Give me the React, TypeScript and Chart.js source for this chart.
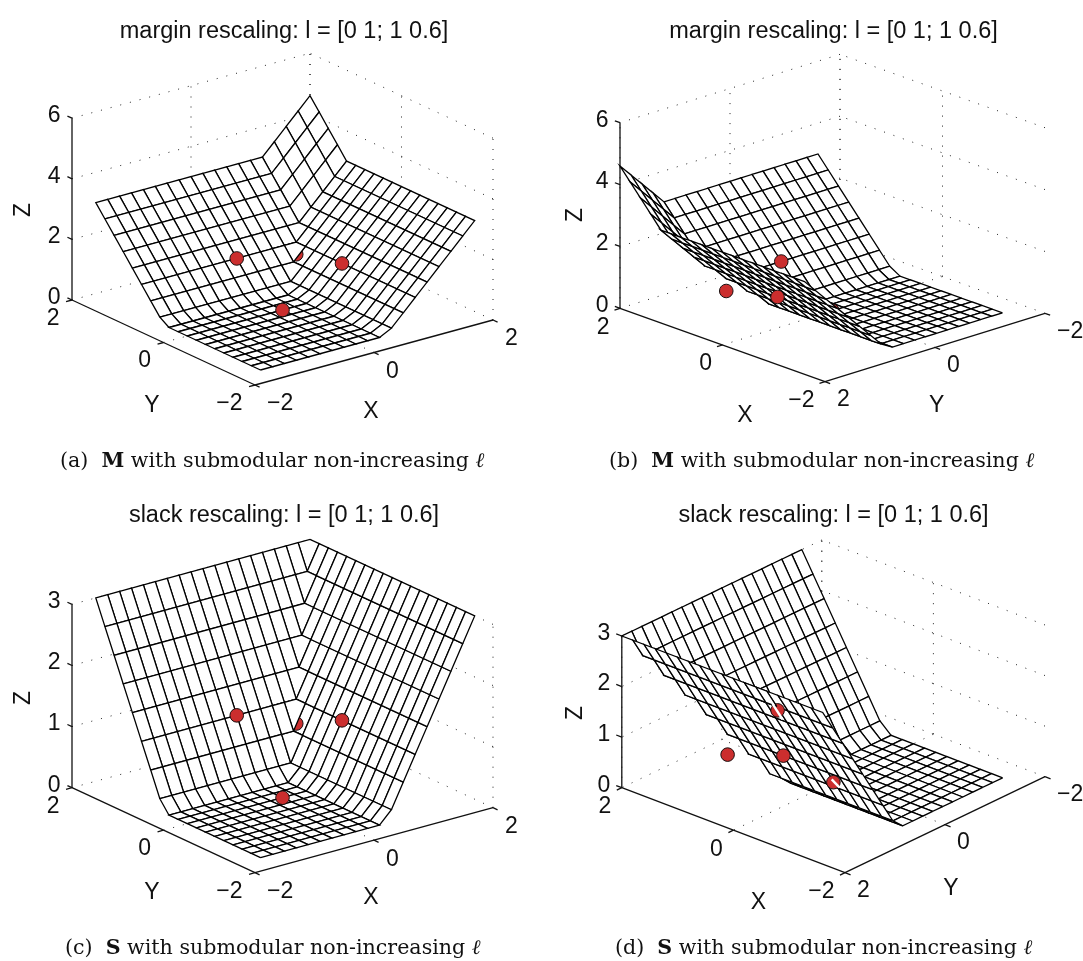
import React, { useEffect, useRef } from "react";
import { Chart, registerables } from "chart.js";
Chart.register(...registerables);

const gridXY = [-1.6,-1.4,-1.2,-1,-0.8,-0.6,-0.4,-0.2,0,0.2,0.4,0.6,0.8,1,1.2,1.4,1.6,1.8,2];

const marginZ = [
[0,0,0,0,0,0,0,0,0,0,0,.2,.6,1,1.4,1.8,2.2,2.6,3],
[0,0,0,0,0,0,0,0,0,0,0,.2,.6,1,1.4,1.8,2.2,2.6,3],
[0,0,0,0,0,0,0,0,0,0,0,.2,.6,1,1.4,1.8,2.2,2.6,3],
[0,0,0,0,0,0,0,0,0,0,0,.2,.6,1,1.4,1.8,2.2,2.6,3],
[0,0,0,0,0,0,0,0,0,0,0,.2,.6,1,1.4,1.8,2.2,2.6,3],
[0,0,0,0,0,0,0,0,0,0,0,.2,.6,1,1.4,1.8,2.2,2.6,3],
[0,0,0,0,0,0,0,0,0,0,0,.2,.6,1,1.4,1.8,2.2,2.6,3],
[0,0,0,0,0,0,0,0,0,0,0,.2,.6,1,1.4,1.8,2.2,2.6,3],
[0,0,0,0,0,0,0,0,0,0,0,.2,.6,1,1.4,1.8,2.2,2.6,3],
[0,0,0,0,0,0,0,0,0,0,0,.2,.6,1,1.4,1.8,2.2,2.6,3],
[0,0,0,0,0,0,0,0,0,0,0,.2,.6,1,1.4,1.8,2.2,2.6,3],
[.2,.2,.2,.2,.2,.2,.2,.2,.2,.2,.2,.2,.6,1,1.4,1.8,2.2,2.6,3],
[.6,.6,.6,.6,.6,.6,.6,.6,.6,.6,.6,.6,.6,1,1.4,1.8,2.2,2.6,3],
[1,1,1,1,1,1,1,1,1,1,1,1,1,1,1.4,1.8,2.2,2.6,3],
[1.4,1.4,1.4,1.4,1.4,1.4,1.4,1.4,1.4,1.4,1.4,1.4,1.4,1.4,1.4,1.8,2.2,2.6,3],
[1.8,1.8,1.8,1.8,1.8,1.8,1.8,1.8,1.8,1.8,1.8,1.8,1.8,1.8,1.8,2.2,2.6,3,3.4],
[2.2,2.2,2.2,2.2,2.2,2.2,2.2,2.2,2.2,2.2,2.2,2.2,2.2,2.2,2.2,2.6,3,3.4,3.8],
[2.6,2.6,2.6,2.6,2.6,2.6,2.6,2.6,2.6,2.6,2.6,2.6,2.6,2.6,2.6,3,3.4,3.8,4.2],
[3,3,3,3,3,3,3,3,3,3,3,3,3,3,3,3.4,3.8,4.2,4.6],
];

const slackZ = [
[0,0,0,0,0,0,0,0,0,0,0,.2,.6,1,1.4,1.8,2.2,2.6,3],
[0,0,0,0,0,0,0,0,0,0,0,.2,.6,1,1.4,1.8,2.2,2.6,3],
[0,0,0,0,0,0,0,0,0,0,0,.2,.6,1,1.4,1.8,2.2,2.6,3],
[0,0,0,0,0,0,0,0,0,0,0,.2,.6,1,1.4,1.8,2.2,2.6,3],
[0,0,0,0,0,0,0,0,0,0,0,.2,.6,1,1.4,1.8,2.2,2.6,3],
[0,0,0,0,0,0,0,0,0,0,0,.2,.6,1,1.4,1.8,2.2,2.6,3],
[0,0,0,0,0,0,0,0,0,0,0,.2,.6,1,1.4,1.8,2.2,2.6,3],
[0,0,0,0,0,0,0,0,0,0,0,.2,.6,1,1.4,1.8,2.2,2.6,3],
[0,0,0,0,0,0,0,0,0,0,0,.2,.6,1,1.4,1.8,2.2,2.6,3],
[0,0,0,0,0,0,0,0,0,0,0,.2,.6,1,1.4,1.8,2.2,2.6,3],
[0,0,0,0,0,0,0,0,0,0,0,.2,.6,1,1.4,1.8,2.2,2.6,3],
[.2,.2,.2,.2,.2,.2,.2,.2,.2,.2,.2,.2,.6,1,1.4,1.8,2.2,2.6,3],
[.6,.6,.6,.6,.6,.6,.6,.6,.6,.6,.6,.6,.6,1,1.4,1.8,2.2,2.6,3],
[1,1,1,1,1,1,1,1,1,1,1,1,1,1,1.4,1.8,2.2,2.6,3],
[1.4,1.4,1.4,1.4,1.4,1.4,1.4,1.4,1.4,1.4,1.4,1.4,1.4,1.4,1.4,1.8,2.2,2.6,3],
[1.8,1.8,1.8,1.8,1.8,1.8,1.8,1.8,1.8,1.8,1.8,1.8,1.8,1.8,1.8,1.8,2.2,2.6,3],
[2.2,2.2,2.2,2.2,2.2,2.2,2.2,2.2,2.2,2.2,2.2,2.2,2.2,2.2,2.2,2.2,2.2,2.6,3],
[2.6,2.6,2.6,2.6,2.6,2.6,2.6,2.6,2.6,2.6,2.6,2.6,2.6,2.6,2.6,2.6,2.6,2.6,3],
[3,3,3,3,3,3,3,3,3,3,3,3,3,3,3,3,3,3,3],
];

const dotX = [0, 1, 0, 1];
const dotY = [0, 0, 1, 1];
const dotZ = [0, 1, 1, 0.6];
const xyTicks = [-2, 0, 2];
const marginTicks = [0, 2, 4, 6];
const slackTicks = [0, 1, 2, 3];
const titles = ["margin rescaling: l = [0 1; 1 0.6]", "margin rescaling: l = [0 1; 1 0.6]", "slack rescaling: l = [0 1; 1 0.6]", "slack rescaling: l = [0 1; 1 0.6]"];

const panels = [
  { left: 0, top: 0, w: 568, h: 484, title: titles[0], grid: marginZ, ticks: marginTicks,
    o: [255, 385], xv: [59.5, -16.25], yv: [-45.75, -21.25], zs: 30.3, el: 21, far: [2, 2], lc: [-2, 2], zt: [0, .1], xSide: 1,
    tx: [371, 411.7], ty: [152, 405.7], tz: [24, 210],
    onTop: [0, 1, 2, 3], over: [[12, 12], [11, 11], [11, 12]], slits: [] },
  { left: 548, top: 0, w: 571, h: 484, title: titles[1], grid: marginZ, ticks: marginTicks,
    o: [1045, 313.3], xv: [-51.25, -18.35], yv: [-55, 17.1], zs: 30.93, el: 19.5, far: [2, -2], lc: [2, 2], zt: [.1, 0], xSide: -1,
    tx: [745, 416], ty: [936.7, 405.7], tz: [576, 215],
    onTop: [1, 2, 3], over: [], slits: [] },
  { left: 0, top: 484, w: 568, h: 477, title: titles[2], grid: slackZ, ticks: slackTicks,
    o: [255, 872.7], xv: [59.5, -16.25], yv: [-45.75, -21.25], zs: 61.1, el: 21, far: [2, 2], lc: [-2, 2], zt: [0, .1], xSide: 1,
    tx: [371, 898], ty: [152, 893], tz: [24, 698],
    onTop: [0, 1, 2, 3], over: [[12, 12], [11, 11], [11, 12]], slits: [] },
  { left: 548, top: 484, w: 571, h: 477, title: titles[3], grid: slackZ, ticks: slackTicks,
    o: [1045, 776.7], xv: [-55.8, -21.25], yv: [-50, 24], zs: 50.57, el: 22.4, far: [2, -2], lc: [2, 2], zt: [.1, 0], xSide: -1,
    tx: [758.3, 903], ty: [951, 889], tz: [576, 713],
    onTop: [0, 1, 2, 3], over: [[5, 17], [6, 17]],
    slits: [[[-.54, 1.82, 2.64], [-.54, 1.62, 2.24]], [[.077, -.052, 0], [-.166, .067, 0]]] },
];

const captions = [
  { tag: "(a)", b: "M", left: 60, top: 448 },
  { tag: "(b)", b: "M", left: 609, top: 448 },
  { tag: "(c)", b: "S", left: 65, top: 935 },
  { tag: "(d)", b: "S", left: 615, top: 935 },
];

const TITLE_H = 46;
const SANS = '"Liberation Sans", Arial, sans-serif';

function project(p: any, X: number, Y: number, Z: number) {
  return {
    x: p.o[0] + (X + 2) * p.xv[0] + (Y + 2) * p.yv[0] - p.left,
    y: p.o[1] + (X + 2) * p.xv[1] + (Y + 2) * p.yv[1] - Z * p.zs - p.top,
  };
}
function depth(p: any, X: number, Y: number, Z: number) {
  const r = (p.el * Math.PI) / 180;
  const fy = (X + 2) * p.xv[1] + (Y + 2) * p.yv[1];
  return fy / Math.tan(r) + Z * p.zs * Math.tan(r);
}

function lineSet(p: any, a: number[], b: number[], style: any) {
  return { data: [project(p, a[0], a[1], a[2]), project(p, b[0], b[1], b[2])], showLine: true, pointRadius: 0, fill: false, ...style };
}

function quadCorners(i: number, j: number) {
  return [[i, j], [i + 1, j], [i + 1, j + 1], [i, j + 1], [i, j]];
}
function quadSet(p: any, i: number, j: number) {
  const pts = quadCorners(i, j).map(([a, b]) => project(p, gridXY[a], gridXY[b], p.grid[b][a]));
  return { data: pts, showLine: true, pointRadius: 0, fill: false, borderColor: "#000", borderWidth: 1.3, quad: true };
}
function dotSet(p: any, k: number) {
  return { data: [project(p, dotX[k], dotY[k], dotZ[k])], showLine: false, pointRadius: 6.8, pointBackgroundColor: "#cb2e2e", pointBorderColor: "#1a1010", pointBorderWidth: 1 };
}

function buildDatasets(p: any) {
  const dotted = { borderColor: "#222", borderWidth: 1, borderDash: [1, 9] };
  const solid = { borderColor: "#111", borderWidth: 1.3 };
  const back: any[] = [];
  const [fx, fy] = p.far;
  const nx = -fx, ny = -fy;
  const zTop = p.ticks[p.ticks.length - 1];
  for (const t of xyTicks) {
    if (t !== nx) back.push(lineSet(p, [t, -2, 0], [t, 2, 0], dotted));
    if (t !== ny) back.push(lineSet(p, [-2, t, 0], [2, t, 0], dotted));
    back.push(lineSet(p, [fx, t, 0], [fx, t, zTop], dotted));
    if (t !== nx) back.push(lineSet(p, [t, fy, 0], [t, fy, zTop], dotted));
  }
  for (const z of p.ticks) {
    if (z === 0) continue;
    back.push(lineSet(p, [fx, -2, z], [fx, 2, z], dotted));
    back.push(lineSet(p, [-2, fy, z], [2, fy, z], dotted));
  }
  back.push(lineSet(p, [nx, -2, 0], [nx, 2, 0], solid));
  back.push(lineSet(p, [-2, ny, 0], [2, ny, 0], solid));
  back.push(lineSet(p, [p.lc[0], p.lc[1], 0], [p.lc[0], p.lc[1], zTop], solid));
  for (const t of xyTicks) {
    back.push(lineSet(p, [nx, t, 0], [nx + Math.sign(nx) * 0.1, t, 0], solid));
    back.push(lineSet(p, [t, ny, 0], [t, ny + Math.sign(ny) * 0.1, 0], solid));
  }
  for (const z of p.ticks) {
    back.push(lineSet(p, [p.lc[0], p.lc[1], z], [p.lc[0] + p.zt[0], p.lc[1] + p.zt[1], z], solid));
  }
  const items: { d: number; ds: any }[] = [];
  const n = gridXY.length;
  for (let j = 0; j < n - 1; j++) {
    for (let i = 0; i < n - 1; i++) {
      let d = 0;
      const c = quadCorners(i, j);
      for (let k = 0; k < 4; k++) d += depth(p, gridXY[c[k][0]], gridXY[c[k][1]], p.grid[c[k][1]][c[k][0]]) / 4;
      items.push({ d, ds: quadSet(p, i, j) });
    }
  }
  for (let k = 0; k < dotX.length; k++) {
    if (!p.onTop.includes(k)) items.push({ d: depth(p, dotX[k], dotY[k], dotZ[k]), ds: dotSet(p, k) });
  }
  items.sort((a, b) => a.d - b.d);
  const ordered = back.concat(items.map((it) => it.ds));
  for (const k of p.onTop) ordered.push(dotSet(p, k));
  for (const [i, j] of p.over) ordered.push(quadSet(p, i, j));
  for (const [a, b] of p.slits) ordered.push(lineSet(p, a, b, { borderColor: "#fff", borderWidth: 2.4 }));
  return ordered.reverse();
}

const quadFill = {
  id: "quadFill",
  beforeDatasetDraw(chart: any, args: any) {
    const ds = chart.data.datasets[args.index];
    if (!ds.quad) return;
    const ctx = chart.ctx;
    const pts = args.meta.data;
    ctx.save();
    ctx.beginPath();
    pts.forEach((e: any, k: number) => (k ? ctx.lineTo(e.x, e.y) : ctx.moveTo(e.x, e.y)));
    ctx.closePath();
    ctx.fillStyle = "#fff";
    ctx.fill();
    ctx.restore();
  },
};

const axisText = {
  id: "axisText",
  afterDatasetsDraw(chart: any, _a: any, opts: any) {
    const p = opts.panel;
    const ctx = chart.ctx;
    const sx = chart.scales.x, sy = chart.scales.y;
    const put = (s: string, x: number, y: number, align: any) => {
      ctx.textAlign = align;
      ctx.fillText(s, sx.getPixelForValue(x), sy.getPixelForValue(y));
    };
    const label = (v: number) => (v < 0 ? "\u2212" + Math.abs(v) : String(v));
    ctx.save();
    ctx.fillStyle = "#111";
    ctx.font = `23px ${SANS}`;
    ctx.textBaseline = "middle";
    const [fx, fy] = p.far;
    for (const t of xyTicks) {
      const a = project(p, t, -fy, 0);
      const b = project(p, -fx, t, 0);
      if (p.xSide > 0) {
        put(label(t), a.x + 12, a.y + 19, "left");
        put(label(t), b.x - 12.5, b.y + 18.5, "right");
      } else {
        put(label(t), a.x - 10.5, a.y + 19, "right");
        put(label(t), b.x + 12, b.y + 18, "left");
      }
    }
    for (const z of p.ticks) {
      const c = project(p, p.lc[0], p.lc[1], z);
      put(String(z), c.x - 11.5, c.y - 2.5, "right");
    }
    ctx.textAlign = "center";
    ctx.fillText("X", sx.getPixelForValue(p.tx[0] - p.left), sy.getPixelForValue(p.tx[1] - p.top));
    ctx.fillText("Y", sx.getPixelForValue(p.ty[0] - p.left), sy.getPixelForValue(p.ty[1] - p.top));
    ctx.translate(sx.getPixelForValue(p.tz[0] - p.left), sy.getPixelForValue(p.tz[1] - p.top));
    ctx.rotate(-Math.PI / 2);
    ctx.fillText("Z", 0, 0);
    ctx.restore();
  },
};

function Panel({ p }: { p: any }) {
  const ref = useRef<HTMLCanvasElement>(null);
  useEffect(() => {
    const chart = new Chart(ref.current as any, {
      type: "scatter",
      data: { datasets: buildDatasets(p) as any },
      plugins: [quadFill, axisText],
      options: {
        animation: false,
        responsive: false,
        events: [],
        clip: false as any,
        layout: { padding: 0, autoPadding: false },
        elements: { line: { tension: 0, borderJoinStyle: "miter", capBezierPoints: false } },
        scales: {
          x: { type: "linear", display: false, min: 0, max: p.w },
          y: { type: "linear", display: false, reverse: true, min: TITLE_H, max: p.h },
        },
        plugins: {
          legend: { display: false },
          tooltip: { enabled: false },
          title: { display: true, text: p.title, color: "#111", font: { family: SANS, size: 23.5, weight: "normal", lineHeight: 1.2 }, padding: { top: 17, bottom: TITLE_H - 17 - 28.2 } },
          axisText: { panel: p },
        } as any,
      },
    });
    return () => chart.destroy();
  }, []);
  return <canvas ref={ref} width={p.w} height={p.h} style={{ position: "absolute", left: p.left, top: p.top, display: "block" }} />;
}

export default function App() {
  return (
    <div style={{ position: "absolute", left: 0, top: 0, width: 1083, height: 961, overflow: "hidden", background: "#fff" }}>
      {panels.map((p, i) => <Panel key={i} p={p} />)}
      {captions.map((c, i) => (
        <div key={i} style={{ position: "absolute", left: c.left, top: c.top, whiteSpace: "pre", color: "#111", fontFamily: '"DejaVu Serif", serif', fontSize: 20.6, lineHeight: "24px" }}>
          {c.tag}{"  "}<b>{c.b}</b>{" with submodular non-increasing "}<i>{"\u2113"}</i>
        </div>
      ))}
    </div>
  );
}
